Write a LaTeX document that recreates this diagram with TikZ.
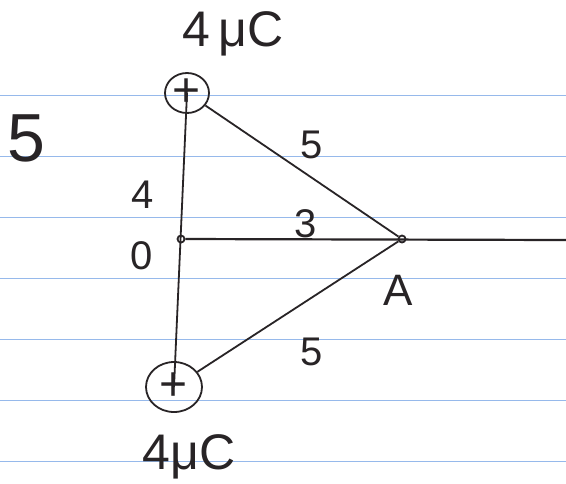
\documentclass[tikz,border=0pt]{standalone}
\usepackage{fontspec}
\setmainfont{Liberation Sans}
\usetikzlibrary{shapes.geometric}
\definecolor{pen}{RGB}{40,36,38}
\definecolor{rule}{RGB}{150,185,235}
\begin{document}
\begin{tikzpicture}[x=0.5pt,y=-0.5pt,
 charge/.style={draw=pen,ellipse,line width=0.9pt,inner sep=0pt,text=pen,font=\fontsize{24}{24}\selectfont},
 dot/.style={draw=pen,circle,line width=0.9pt,inner sep=0pt,minimum size=3.5pt},
 lbl/.style={text=pen,inner sep=0pt,font=\fontsize{20}{20}\selectfont},
 wire/.style={draw=pen,line width=0.9pt}]
\useasboundingbox (0,0) rectangle (566,483);
\fill[white] (0,0) rectangle (566,483);
% ruled paper
\foreach \yy in {95,156,217,278,339,400,461}
  \draw[rule,line width=0.5pt] (0,\yy) -- (566,\yy);
\node[charge,minimum width=22pt,minimum height=20pt] (qtop) at (187,93) {+};
\node[charge,minimum width=28pt,minimum height=25pt] (qbot) at (174,387) {+};
\node[dot] (O) at (181,239) {};
\node[dot] (A) at (402,239) {};
\coordinate (axend) at (566,240);
\draw[wire] (qtop.center) -- (qbot.center);
\draw[wire] (qtop) -- (A);
\draw[wire] (qbot) -- (A);
\draw[wire,line width=1.1pt] (O) -- (axend);
\node[lbl,font=\fontsize{25}{25}\selectfont] (qtoplbl) at (233,34) {4\,μC};
\node[lbl,font=\fontsize{25}{25}\selectfont] (qbotlbl) at (189,457) {4μC};
\node[lbl,font=\fontsize{34}{34}\selectfont] (num) at (26,138) {5};
\node[lbl] (side4) at (143,195) {4};
\node[lbl] (orig) at (142,256) {0};
\node[lbl] (side3) at (306,224) {3};
\node[lbl] (up5) at (312,145) {5};
\node[lbl] (low5) at (312,352) {5};
\node[lbl,font=\fontsize{22}{22}\selectfont] (Albl) at (398,290) {A};
\end{tikzpicture}
\end{document}
